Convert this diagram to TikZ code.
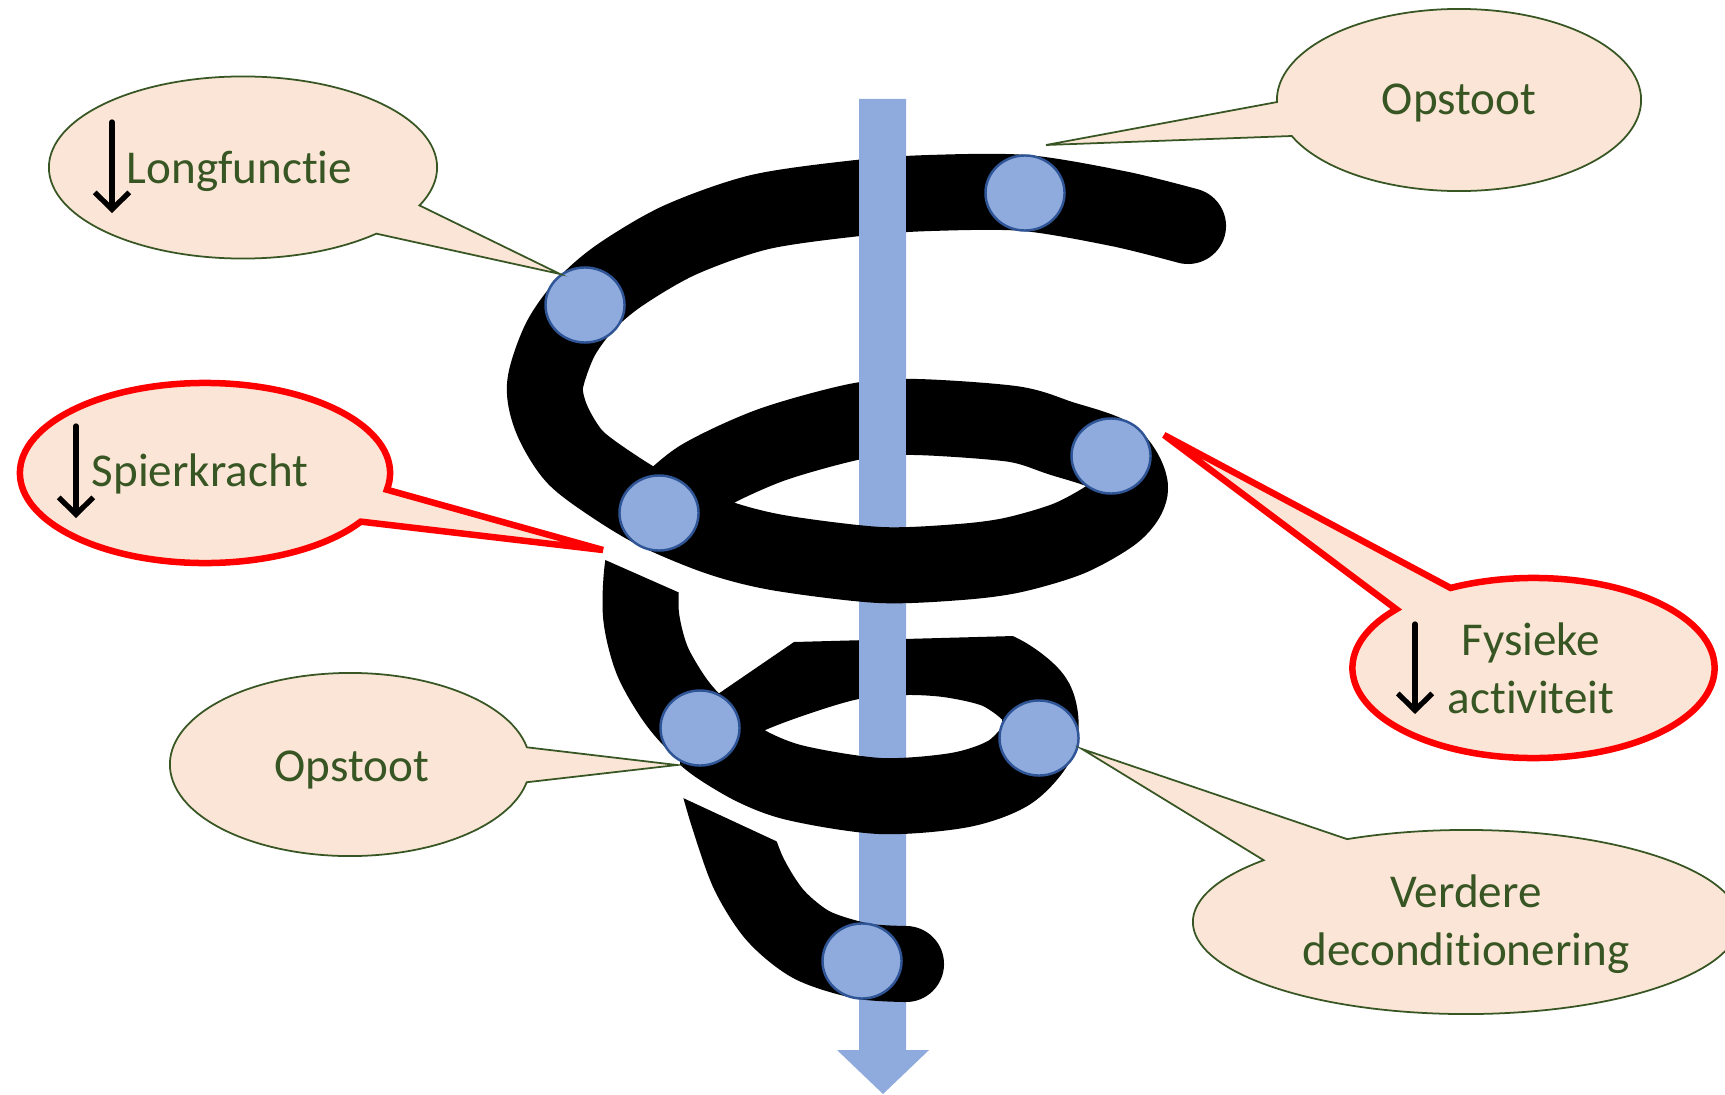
\documentclass[tikz,border=0pt]{standalone}
\usepackage{fontspec}
\setmainfont[Ligatures=NoCommon]{Carlito}
\usepackage{tikz}
\usetikzlibrary{shapes.geometric,shapes.callouts,arrows.meta}

\definecolor{shaftblue}{HTML}{8FAADC}
\definecolor{knotedge}{HTML}{2F5597}
\definecolor{bubblefill}{HTML}{FBE5D6}
\definecolor{textgreen}{HTML}{375623}

\begin{document}
\begin{tikzpicture}[x=0.01cm,y=-0.01cm,
    coilband/.style={line width=0.76cm,black,line join=round},
    knot/.style={ellipse,draw=knotedge,fill=shaftblue,line width=0.7pt,minimum width=0.79cm,minimum height=0.75cm,inner sep=0pt},
    bubble/.style={ellipse callout,draw=textgreen,fill=bubblefill,line width=0.5pt,callout pointer arc=22,minimum width=3.64cm,minimum height=1.82cm},
    alarm/.style={bubble,draw=red,line width=1.85pt},
    bubbletext/.style={text=textgreen,font=\fontsize{13.4pt}{16.6pt}\selectfont,inner sep=0pt},
    dnarrow/.style={line width=1.5pt,-{Straight Barb[length=4.8pt,width=9.8pt]},line cap=round}]
    \useasboundingbox (0,0) rectangle (1725,1094);

    % Time axis
    \fill[shaftblue] (859,99) -- (906,99) -- (906,1050) -- (929,1050) -- (883,1094) -- (837,1050) -- (859,1050) -- cycle;

    % Upper spiral and middle ring
    \draw[coilband,line cap=round] plot[smooth] coordinates {(1188,226) (1120,209) (1025,193) (930,193) (858,198) (760,212) (680,240) (620,275) (585,305) (560,340) (545,385) (552,420) (575,457) (615,487) (659,513) (720,538) (780,553) (880,565) (960,562) (1013,555) (1070,538) (1115,512) (1130,487) (1111,456) (1060,438) (1013,424) (916,417) (858,421) (771,445) (700,478) (659,513)};

    % Piece behind the middle ring
    \begin{scope}
        \clip (560,540) -- (800,646) -- (800,770) -- (560,770) -- cycle;
        \draw[coilband] plot[smooth] coordinates {(655,520) (643,565) (641,615) (652,660) (675,700) (700,728) (740,758)};
    \end{scope}

    % Lower ring
    \begin{scope}
        \clip (680,720) -- (794,642) -- (1014,636) -- (1140,636) -- (1140,860) -- (680,860) -- cycle;
        \draw[coilband] plot[smooth cycle] coordinates {(700,728) (740,760) (792,782) (880,796) (960,790) (1010,772) (1039,738) (1035,700) (1000,672) (953,660) (906,657) (850,662) (790,680) (740,700)};
    \end{scope}

    % Last piece
    \begin{scope}
        \clip (640,778) -- (1000,945) -- (1000,1094) -- (640,1094) -- cycle;
        \draw[coilband,line cap=round] plot[smooth] coordinates {(715,770) (728,815) (748,872) (775,915) (812,945) (862,961) (906,964)};
    \end{scope}

    % Axis in front of the back bands
    \fill[shaftblue] (859,99) rectangle (906,500);
    \fill[shaftblue] (859,630) rectangle (906,756);

    % Events on the coil
    \node[knot] (ktop) at (1025,193) {};
    \node[knot] (kleft) at (585,305) {};
    \node[knot] (kcross) at (659,513) {};
    \node[knot] (kright) at (1111,456) {};
    \node[knot] (klowleft) at (700,728) {};
    \node[knot] (klowright) at (1039,738) {};
    \node[knot] (kbottom) at (862,961) {};

    % Pointer ends
    \coordinate (lungtip) at (560,274);
    \coordinate (toptip) at (1046,145);
    \coordinate (spiertip) at (603,550);
    \coordinate (fystip) at (1164,435);
    \coordinate (lefttip) at (677,765);
    \coordinate (verdtip) at (1082,749);

    % Longfunctie
    \node[bubble,minimum width=3.88cm,callout absolute pointer={(lungtip)}] (lung) at (243,167.5) {};
    \draw[dnarrow] (112,122) -- (112,213);
    \node[bubbletext,anchor=base west] (lungtext) at (126,183.3) {Longfunctie};

    % Opstoot (top)
    \node[bubble,callout absolute pointer={(toptip)}] (topflare) at (1459,100) {};
    \node[bubbletext,anchor=base] (toptext) at (1459,115) {Opstoot};

    % Spierkracht
    \node[alarm,minimum width=3.7cm,minimum height=1.8cm,callout absolute pointer={(spiertip)}] (spier) at (205,473) {};
    \draw[dnarrow] (76,426) -- (76,518);
    \node[bubbletext,anchor=base west] (spiertext) at (91,486) {Spierkracht};

    % Fysieke activiteit
    \node[alarm,minimum width=3.62cm,minimum height=1.8cm,callout absolute pointer={(fystip)}] (fys) at (1533.5,668) {};
    \draw[dnarrow] (1415,624) -- (1415,714);
    \node[bubbletext,align=center,anchor=base] (fystext) at (1531,713.7) {Fysieke\\activiteit};

    % Opstoot (left)
    \node[bubble,minimum width=3.6cm,minimum height=1.83cm,callout absolute pointer={(lefttip)}] (leftflare) at (350,764.5) {};
    \node[bubbletext,anchor=base] (lefttext) at (352,781) {Opstoot};

    % Verdere deconditionering
    \node[bubble,minimum width=5.46cm,minimum height=1.84cm,callout absolute pointer={(verdtip)}] (verd) at (1466,922) {};
    \node[bubbletext,align=center,anchor=base] (verdtext) at (1466,965.5) {Verdere\\deconditionering};
\end{tikzpicture}
\end{document}
